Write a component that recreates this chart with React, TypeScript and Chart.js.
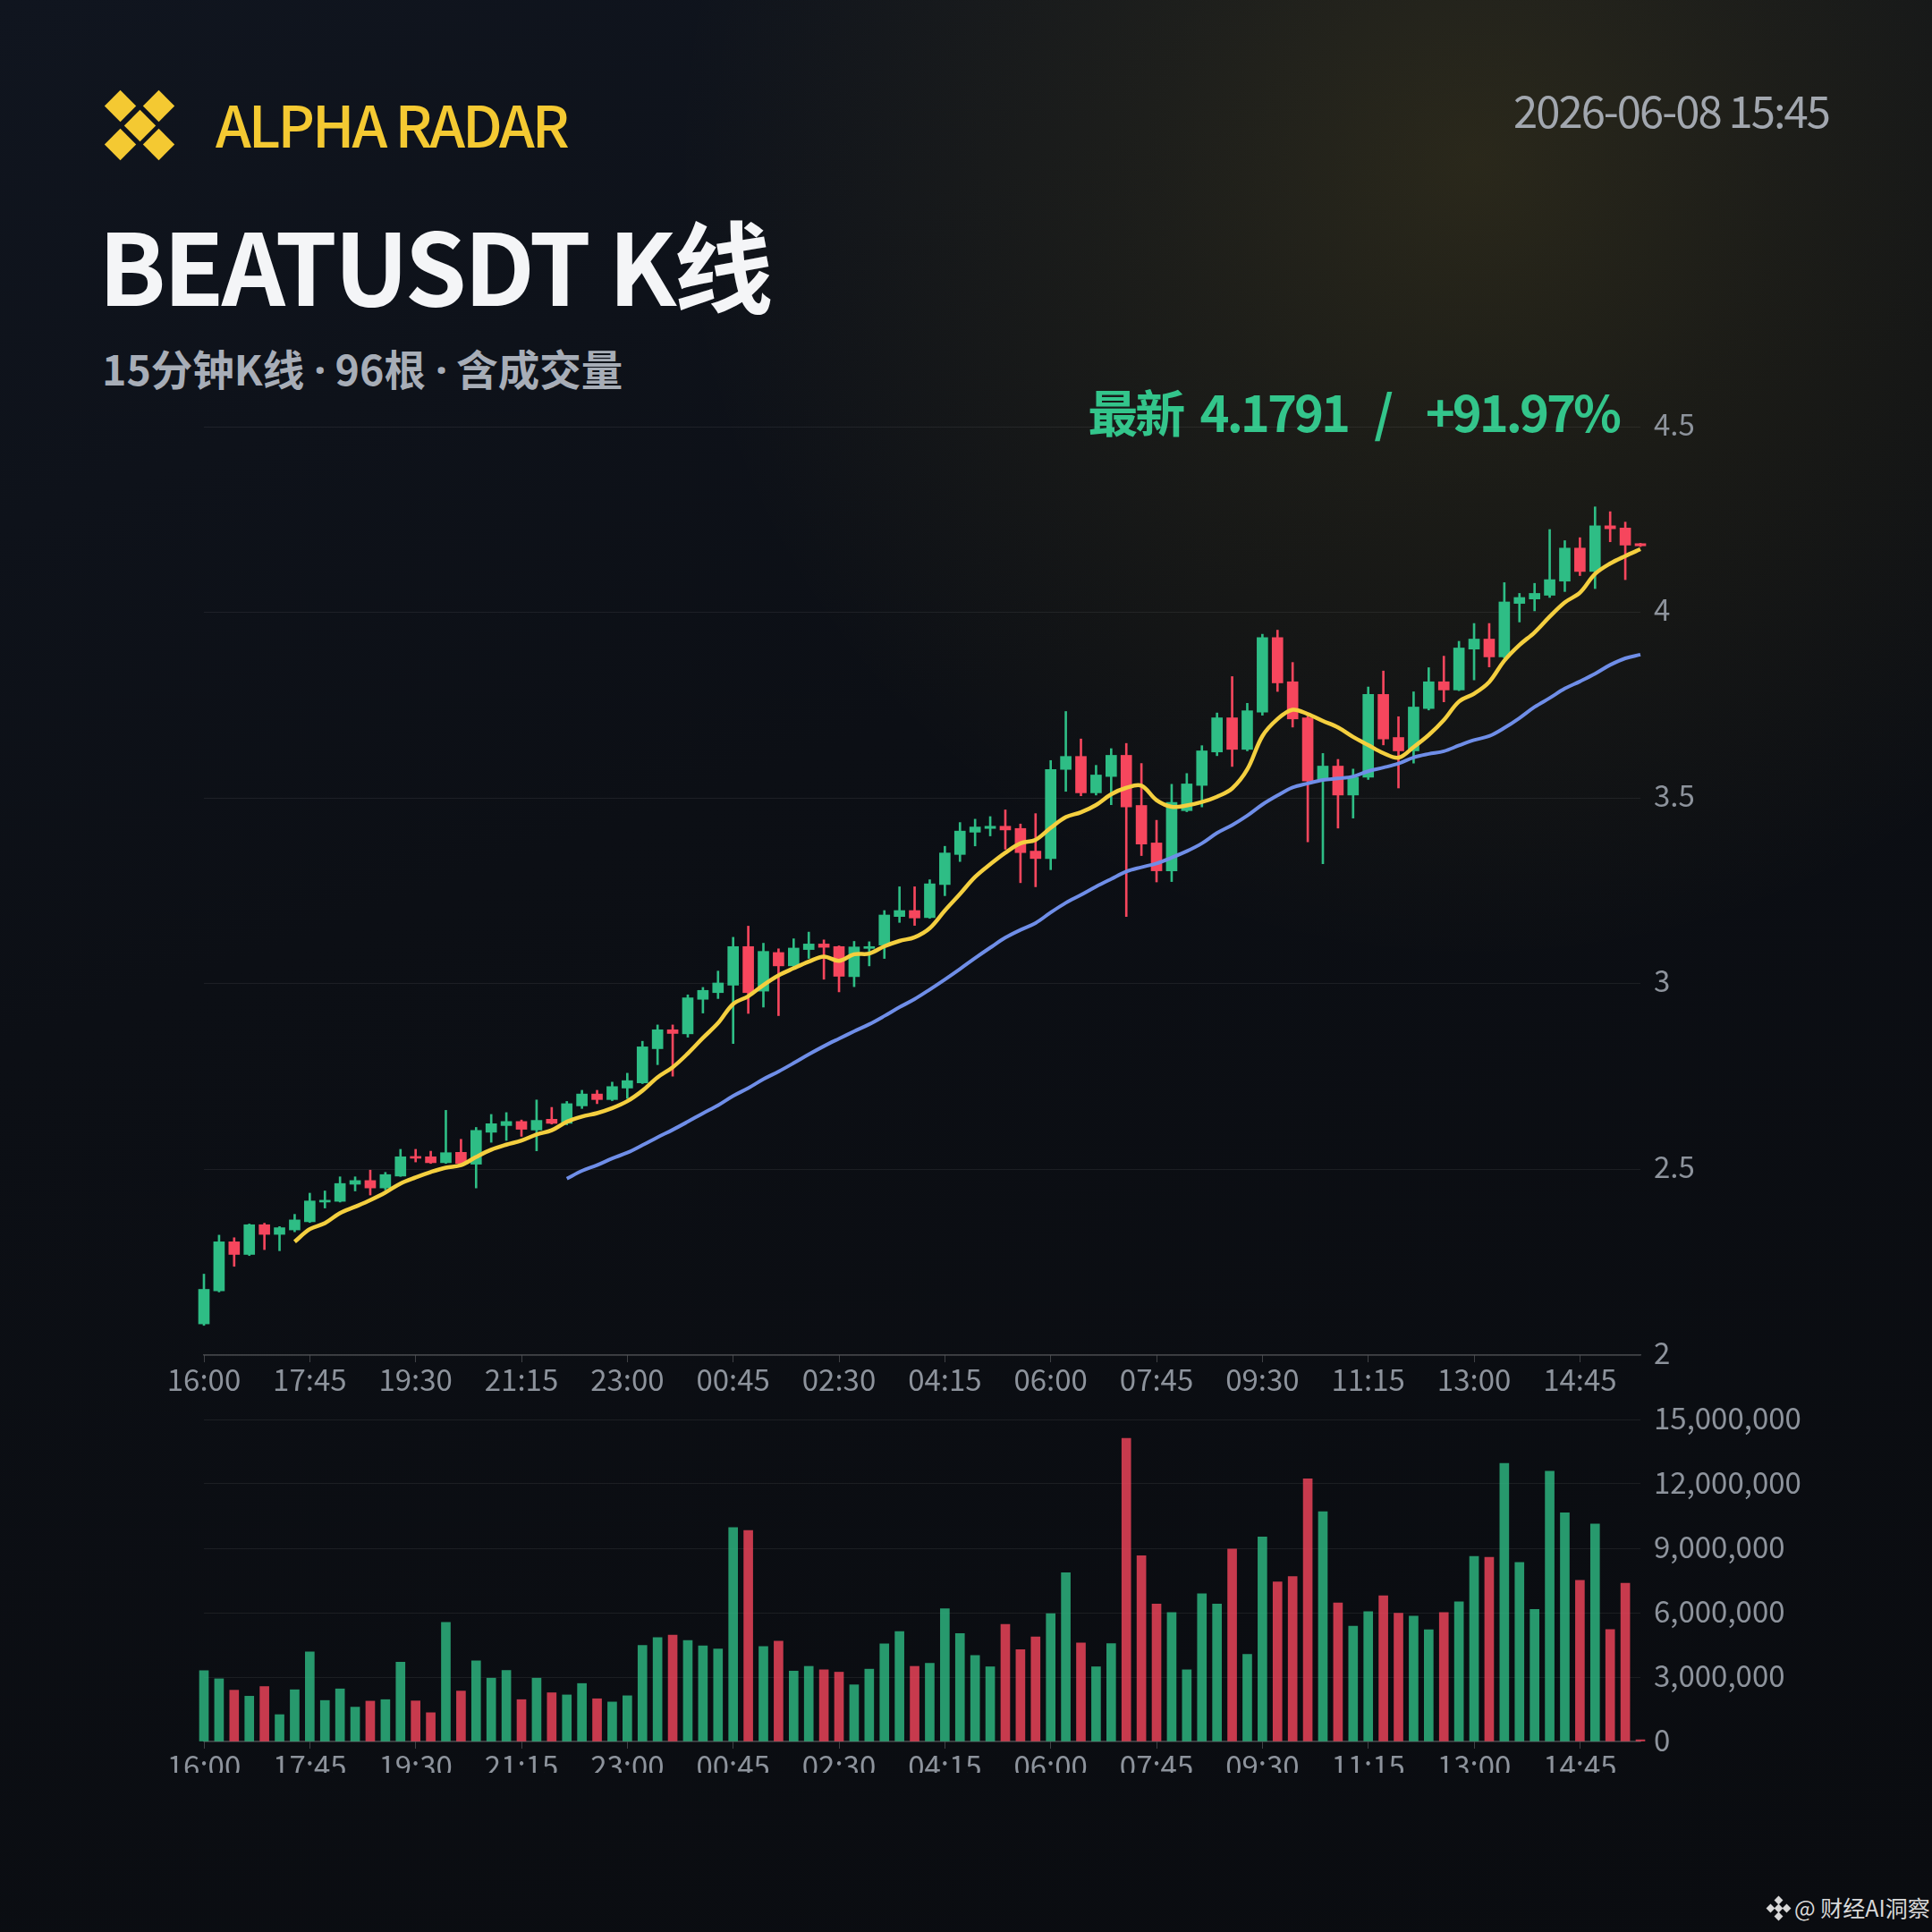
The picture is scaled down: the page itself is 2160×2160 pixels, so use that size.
import React, { useEffect, useRef } from 'react';
import { Chart, registerables } from 'chart.js';

Chart.register(...registerables);

const TIMES = [
  '16:00','16:15','16:30','16:45','17:00','17:15','17:30','17:45','18:00','18:15','18:30','18:45',
  '19:00','19:15','19:30','19:45','20:00','20:15','20:30','20:45','21:00','21:15','21:30','21:45',
  '22:00','22:15','22:30','22:45','23:00','23:15','23:30','23:45','00:00','00:15','00:30','00:45',
  '01:00','01:15','01:30','01:45','02:00','02:15','02:30','02:45','03:00','03:15','03:30','03:45',
  '04:00','04:15','04:30','04:45','05:00','05:15','05:30','05:45','06:00','06:15','06:30','06:45',
  '07:00','07:15','07:30','07:45','08:00','08:15','08:30','08:45','09:00','09:15','09:30','09:45',
  '10:00','10:15','10:30','10:45','11:00','11:15','11:30','11:45','12:00','12:15','12:30','12:45',
  '13:00','13:15','13:30','13:45','14:00','14:15','14:30','14:45','15:00','15:15','15:30','15:45',
];

const OPEN = [
  2.084, 2.173, 2.305, 2.271, 2.351, 2.325, 2.337, 2.359, 2.412, 2.414, 2.460, 2.470,
  2.450, 2.482, 2.534, 2.534, 2.518, 2.546, 2.514, 2.600, 2.618, 2.629, 2.606, 2.635,
  2.624, 2.671, 2.703, 2.688, 2.719, 2.733, 2.825, 2.876, 2.865, 2.958, 2.976, 2.996,
  3.100, 2.980, 3.084, 3.048, 3.092, 3.107, 3.100, 3.019, 3.095, 3.104, 3.181, 3.197,
  3.178, 3.267, 3.348, 3.408, 3.418, 3.424, 3.418, 3.357, 3.337, 3.577, 3.612, 3.514,
  3.558, 3.615, 3.480, 3.379, 3.304, 3.466, 3.534, 3.624, 3.716, 3.631, 3.731, 3.932,
  3.813, 3.716, 3.548, 3.586, 3.508, 3.556, 3.779, 3.663, 3.627, 3.741, 3.813, 3.791,
  3.901, 3.928, 3.880, 4.024, 4.036, 4.046, 4.084, 4.173, 4.110, 4.233, 4.227, 4.185,
];
const HIGH = [
  2.218, 2.323, 2.316, 2.353, 2.355, 2.346, 2.379, 2.436, 2.442, 2.480, 2.480, 2.498,
  2.492, 2.554, 2.554, 2.549, 2.659, 2.581, 2.613, 2.648, 2.653, 2.633, 2.687, 2.667,
  2.683, 2.713, 2.713, 2.735, 2.759, 2.845, 2.889, 2.889, 2.970, 2.990, 3.034, 3.125,
  3.155, 3.109, 3.094, 3.121, 3.139, 3.118, 3.102, 3.114, 3.113, 3.197, 3.261, 3.261,
  3.280, 3.370, 3.434, 3.443, 3.450, 3.468, 3.430, 3.458, 3.601, 3.733, 3.659, 3.588,
  3.633, 3.647, 3.593, 3.440, 3.537, 3.566, 3.641, 3.729, 3.827, 3.755, 3.941, 3.952,
  3.865, 3.720, 3.620, 3.604, 3.578, 3.799, 3.842, 3.719, 3.786, 3.851, 3.882, 3.922,
  3.970, 3.970, 4.080, 4.051, 4.078, 4.223, 4.193, 4.201, 4.284, 4.271, 4.243, 4.186,
];
const LOW = [
  2.080, 2.170, 2.239, 2.268, 2.284, 2.281, 2.332, 2.357, 2.396, 2.412, 2.442, 2.431,
  2.445, 2.481, 2.520, 2.516, 2.516, 2.515, 2.450, 2.573, 2.578, 2.589, 2.550, 2.622,
  2.620, 2.664, 2.677, 2.685, 2.691, 2.731, 2.782, 2.751, 2.856, 2.921, 2.960, 2.839,
  2.920, 2.937, 2.914, 3.045, 3.068, 3.012, 2.978, 2.992, 3.048, 3.068, 3.165, 3.157,
  3.176, 3.237, 3.329, 3.371, 3.398, 3.362, 3.272, 3.261, 3.307, 3.518, 3.506, 3.508,
  3.482, 3.181, 3.345, 3.274, 3.275, 3.463, 3.476, 3.614, 3.585, 3.627, 3.723, 3.787,
  3.691, 3.382, 3.323, 3.419, 3.446, 3.550, 3.643, 3.527, 3.594, 3.737, 3.759, 3.789,
  3.818, 3.853, 3.877, 3.974, 4.004, 4.040, 4.056, 4.099, 4.064, 4.190, 4.088, 4.177,
];
const CLOSE = [
  2.177, 2.305, 2.271, 2.351, 2.325, 2.343, 2.364, 2.415, 2.417, 2.462, 2.470, 2.450,
  2.486, 2.534, 2.530, 2.518, 2.545, 2.516, 2.605, 2.623, 2.629, 2.608, 2.632, 2.624,
  2.677, 2.703, 2.688, 2.723, 2.739, 2.830, 2.876, 2.866, 2.962, 2.982, 3.002, 3.100,
  2.976, 3.087, 3.048, 3.096, 3.107, 3.098, 3.020, 3.099, 3.100, 3.185, 3.197, 3.177,
  3.269, 3.352, 3.411, 3.422, 3.424, 3.414, 3.353, 3.337, 3.577, 3.612, 3.514, 3.562,
  3.615, 3.476, 3.376, 3.304, 3.488, 3.538, 3.627, 3.716, 3.631, 3.735, 3.932, 3.810,
  3.713, 3.546, 3.586, 3.508, 3.556, 3.779, 3.659, 3.627, 3.745, 3.813, 3.791, 3.904,
  3.928, 3.880, 4.028, 4.040, 4.051, 4.088, 4.173, 4.110, 4.233, 4.225, 4.181, 4.1791,
];
const VOLUME = [
  3300000, 2920000, 2390000, 2110000, 2560000, 1250000, 2410000, 4170000, 1910000, 2450000, 1600000, 1880000,
  1950000, 3690000, 1890000, 1340000, 5550000, 2350000, 3760000, 2950000, 3310000, 1950000, 2950000, 2270000,
  2170000, 2700000, 1990000, 1840000, 2130000, 4480000, 4840000, 4950000, 4710000, 4450000, 4310000, 9970000,
  9830000, 4420000, 4670000, 3280000, 3500000, 3340000, 3230000, 2640000, 3370000, 4550000, 5120000, 3500000,
  3640000, 6180000, 5030000, 4010000, 3480000, 5450000, 4280000, 4870000, 5950000, 7860000, 4590000, 3480000,
  4560000, 14120000, 8650000, 6400000, 6010000, 3340000, 6880000, 6400000, 8970000, 4060000, 9530000, 7430000,
  7680000, 12240000, 10710000, 6450000, 5370000, 6050000, 6790000, 5980000, 5840000, 5200000, 6010000, 6510000,
  8620000, 8580000, 12960000, 8340000, 6150000, 12590000, 10650000, 7510000, 10130000, 5220000, 7370000, 80000,
];

const UP = '#2ebd85';
const DOWN = '#f6465d';
const UP_VOL = 'rgba(46,189,133,0.8)';
const DOWN_VOL = 'rgba(246,70,93,0.8)';
const MA7_COLOR = '#f4cf3f';
const MA25_COLOR = '#6f8ee8';
const GRID = 'rgba(255,255,255,0.07)';
const AXIS = 'rgba(255,255,255,0.22)';
const TICK = '#8d939c';
const FONT = "'Noto Sans CJK SC', 'Noto Sans', sans-serif";
const TICK_SIZE = 33;

function sma(values: number[], n: number): (number | null)[] {
  return values.map((_, i) => {
    if (i < n - 1) return null;
    let s = 0;
    for (let k = i - n + 1; k <= i; k++) s += values[k];
    return s / n;
  });
}

const xScale = () => ({
  type: 'category' as const,
  offset: false,
  grid: {
    offset: false,
    drawOnChartArea: false,
    drawTicks: true,
    tickLength: 8,
    color: (c: any) => (c.index % 7 === 0 ? AXIS : 'rgba(0,0,0,0)'),
  },
  border: { display: true, color: AXIS, width: 1.5 },
  ticks: {
    autoSkip: false,
    maxRotation: 0,
    minRotation: 0,
    padding: 0,
    color: TICK,
    font: { size: TICK_SIZE, family: FONT },
    callback: (_v: any, i: number) => (i % 7 === 0 ? TIMES[i] : ''),
  },
  afterFit: (s: any) => {
    s.height = 60;
  },
});

function PriceChart() {
  const ref = useRef<HTMLCanvasElement>(null);
  useEffect(() => {
    const colors = CLOSE.map((c, i) => (c >= OPEN[i] ? UP : DOWN));
    const chart = new Chart(ref.current as HTMLCanvasElement, {
      type: 'bar',
      data: {
        labels: TIMES,
        datasets: [
          {
            type: 'line',
            label: 'MA7',
            data: sma(CLOSE, 7),
            borderColor: MA7_COLOR,
            borderWidth: 4.5,
            pointRadius: 0,
            tension: 0.35,
            order: 0,
          } as any,
          {
            type: 'line',
            label: 'MA25',
            data: sma(CLOSE, 25),
            borderColor: MA25_COLOR,
            borderWidth: 4,
            pointRadius: 0,
            tension: 0.35,
            order: 1,
          } as any,
          {
            type: 'bar',
            label: 'body',
            data: OPEN.map((o, i) => [o, CLOSE[i]]),
            backgroundColor: colors,
            barThickness: 12,
            minBarLength: 2,
            grouped: false,
            clip: false,
            order: 2,
          } as any,
          {
            type: 'bar',
            label: 'wick',
            data: LOW.map((l, i) => [l, HIGH[i]]),
            backgroundColor: colors,
            barThickness: 2,
            grouped: false,
            clip: false,
            order: 3,
          } as any,
        ],
      },
      options: {
        responsive: false,
        animation: false,
        locale: 'en-US',
        layout: { padding: { left: 60, top: 40, right: 0, bottom: 0 } },
        plugins: { legend: { display: false }, tooltip: { enabled: false } },
        scales: {
          x: xScale() as any,
          y: {
            position: 'right',
            min: 2,
            max: 4.5,
            ticks: {
              stepSize: 0.5,
              padding: 15,
              labelOffset: -3,
              color: TICK,
              font: { size: TICK_SIZE, family: FONT },
              callback: (v: any) => String(Number(v)),
            },
            grid: { color: GRID, drawTicks: false },
            border: { display: false },
            afterFit: (s: any) => {
              s.width = 200;
            },
          } as any,
        },
      },
    });
    return () => chart.destroy();
  }, []);
  return (
    <canvas
      ref={ref}
      width={1866}
      height={1138}
      style={{ position: 'absolute', left: 168, top: 437, width: 1866, height: 1138 }}
    />
  );
}

function VolumeChart() {
  const ref = useRef<HTMLCanvasElement>(null);
  useEffect(() => {
    const colors = CLOSE.map((c, i) => (c >= OPEN[i] ? UP_VOL : DOWN_VOL));
    const chart = new Chart(ref.current as HTMLCanvasElement, {
      type: 'bar',
      data: {
        labels: TIMES,
        datasets: [
          {
            label: 'Volume',
            data: VOLUME,
            backgroundColor: colors,
            barThickness: 10,
            clip: false,
          } as any,
        ],
      },
      options: {
        responsive: false,
        animation: false,
        locale: 'en-US',
        layout: { padding: { left: 60, top: 40, right: 0, bottom: 0 } },
        plugins: { legend: { display: false }, tooltip: { enabled: false } },
        scales: {
          x: xScale() as any,
          y: {
            position: 'right',
            min: 0,
            max: 15000000,
            ticks: {
              stepSize: 3000000,
              padding: 15,
              labelOffset: -2,
              color: TICK,
              font: { size: TICK_SIZE, family: FONT },
            },
            grid: { color: GRID, drawTicks: false },
            border: { display: false },
            afterFit: (s: any) => {
              s.width = 200;
            },
          } as any,
        },
      },
    });
    return () => chart.destroy();
  }, []);
  return (
    <div style={{ position: 'absolute', left: 0, top: 1547, width: 2160, height: 435, overflow: 'hidden' }}>
      <canvas
        ref={ref}
        width={1866}
        height={460}
        style={{ position: 'absolute', left: 168, top: 0, width: 1866, height: 460 }}
      />
    </div>
  );
}

function Logo() {
  const d = 21.5;
  const pos = [
    [-d, -d],
    [d, -d],
    [0, 0],
    [-d, d],
    [d, d],
  ];
  return (
    <div style={{ position: 'absolute', left: 156, top: 140 }}>
      {pos.map(([dx, dy], k) => (
        <div
          key={k}
          style={{
            position: 'absolute',
            left: dx - 12.5,
            top: dy - 12.5,
            width: 25,
            height: 25,
            background: '#f4c932',
            transform: 'rotate(45deg)',
          }}
        />
      ))}
    </div>
  );
}

function MarkIcon() {
  const pts = [
    [0, -9],
    [9, 0],
    [0, 9],
    [-9, 0],
    [0, 0],
  ];
  return (
    <div style={{ position: 'absolute', left: 1988, top: 2133 }}>
      {pts.map(([dx, dy], k) => (
        <div
          key={k}
          style={{
            position: 'absolute',
            left: dx - 3.5,
            top: dy - 3.5,
            width: 7,
            height: 7,
            background: '#d8d8d8',
            transform: 'rotate(45deg)',
          }}
        />
      ))}
    </div>
  );
}

const text = (extra: React.CSSProperties): React.CSSProperties => ({
  position: 'absolute',
  margin: 0,
  lineHeight: 1,
  whiteSpace: 'pre',
  fontFamily: FONT,
  ...extra,
});

const Dot = () => (
  <span style={{ fontFamily: "'Noto Sans', sans-serif", letterSpacing: -1 }}> · </span>
);

export default function App() {
  Chart.defaults.font.family = FONT;
  return (
    <div
      style={{
        position: 'absolute',
        left: 0,
        top: 0,
        width: 2160,
        height: 2160,
        overflow: 'hidden',
        background:
          'radial-gradient(circle at 1650px 180px, rgba(235,195,45,0.13) 0px, rgba(235,195,45,0.07) 350px, rgba(235,195,45,0) 900px), linear-gradient(160deg, #10151f 0%, #0c0f15 40%, #0a0c10 100%)',
      }}
    >
      <Logo />
      <div style={text({ left: 241, top: 105, fontSize: 64, fontWeight: 500, letterSpacing: -3, color: '#f4c932' })}>
        ALPHA RADAR
      </div>
      <div style={text({ right: 115, top: 97, fontSize: 49, letterSpacing: -2, color: '#a2a7af' })}>
        2026-06-08 15:45
      </div>
      <div style={text({ left: 110, top: 238, fontSize: 111, fontWeight: 700, letterSpacing: -3, color: '#f4f5f7' })}>
        BEATUSDT K线
      </div>
      <div style={text({ left: 114, top: 388, fontSize: 46.5, fontWeight: 700, color: '#a7adb7' })}>
        15分钟K线<Dot />96根<Dot />含成交量
      </div>
      <div style={text({ right: 350, top: 431, fontSize: 56, fontWeight: 700, letterSpacing: -3, color: '#33c58b' })}>
        {'最新  4.1791   /    +91.97%'}
      </div>
      <PriceChart />
      <VolumeChart />
      <MarkIcon />
      <div style={text({ left: 2006, top: 2120, fontSize: 25, color: '#d8d8d8' })}>@ 财经AI洞察</div>
    </div>
  );
}
